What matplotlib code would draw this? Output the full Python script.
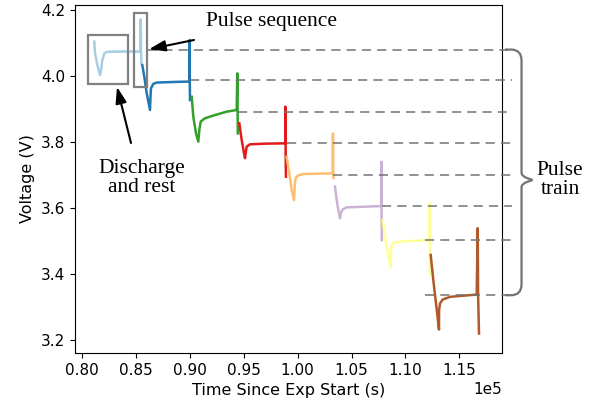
import matplotlib
matplotlib.use("Agg")
import matplotlib.pyplot as plt
import matplotlib.patches as mpatches
from matplotlib.path import Path
import matplotlib.transforms as mtransforms
import numpy as np

# voltage traces, one per discharge/rest/pulse cycle (time in s, voltage in V)
t_c0 = [81141, 81206, 81453, 81670, 81763, 81886, 82072, 82295, 83525, 85426, 85450, 85473, 85519]
v_c0 = [4.104, 4.069, 4.029, 4.003, 4.015, 4.048, 4.068, 4.073, 4.074, 4.074, 4.172, 4.074, 4.039]

t_c1 = [85593, 85779, 86001, 86308, 86355, 86400, 86614, 86929, 88627, 89972, 89980, 89999, 90018]
v_c1 = [4.033, 3.998, 3.948, 3.897, 3.937, 3.963, 3.976, 3.980, 3.982, 3.983, 4.109, 3.983, 3.927]

t_c2 = [90176, 90325, 90575, 90788, 90881, 91011, 91410, 92180, 93423, 94350, 94406, 94434, 94452]
v_c2 = [3.937, 3.877, 3.826, 3.801, 3.836, 3.862, 3.872, 3.880, 3.892, 3.897, 4.008, 3.897, 3.826]

t_c3 = [94591, 94814, 95027, 95120, 95213, 95277, 95584, 96975, 98858, 98868, 98886, 98914]
v_c3 = [3.857, 3.806, 3.766, 3.751, 3.773, 3.786, 3.793, 3.795, 3.796, 3.907, 3.796, 3.695]

t_c4 = [98989, 99230, 99453, 99666, 99758, 99851, 100065, 100528, 103264, 103278, 103292, 103320]
v_c4 = [3.755, 3.705, 3.655, 3.624, 3.680, 3.693, 3.699, 3.703, 3.705, 3.826, 3.705, 3.691]

t_c5 = [103469, 103627, 103775, 103932, 103997, 104183, 104554, 107754, 107768, 107782, 107810]
v_c5 = [3.665, 3.624, 3.594, 3.569, 3.584, 3.596, 3.602, 3.606, 3.740, 3.606, 3.503]

t_c6 = [107893, 108106, 108413, 108635, 108663, 108728, 109034, 109804, 112234, 112248, 112262, 112290]
v_c6 = [3.564, 3.513, 3.452, 3.420, 3.473, 3.488, 3.496, 3.499, 3.503, 3.614, 3.503, 3.397]

t_c7 = [112345, 112586, 112836, 113115, 113120, 113208, 113458, 114136, 116612, 116705, 116740, 116826]
v_c7 = [3.458, 3.382, 3.311, 3.232, 3.291, 3.311, 3.323, 3.331, 3.338, 3.539, 3.338, 3.220]

times = [t_c0, t_c1, t_c2, t_c3, t_c4, t_c5, t_c6, t_c7]
volts = [v_c0, v_c1, v_c2, v_c3, v_c4, v_c5, v_c6, v_c7]
colors = ['#a6cee3', '#1f78b4', '#33a02c', '#e31a1c',
          '#fdbf6f', '#cab2d6', '#ffff99', '#b15928']

# rest voltage levels (dashed guides) and where each guide starts
rest_v = [4.080, 3.988, 3.892, 3.798, 3.700, 3.606, 3.503, 3.336]
rest_t = [86122, 90018, 94471, 99017, 103283, 107829, 111817, 111817]

xticks = [80000, 85000, 90000, 95000, 100000, 105000, 110000, 115000]
yticks = [3.2, 3.4, 3.6, 3.8, 4.0, 4.2]

fig, ax = plt.subplots(figsize=(5.97, 4.05), dpi=100)
plt.subplots_adjust(left=0.1256, right=0.8409, top=0.9877, bottom=0.1284)

for t, v, c in zip(times, volts, colors):
    ax.plot(t, v, color=c, linewidth=1.8, zorder=2)

# dashed guides run past the right spine
blend = mtransforms.blended_transform_factory(ax.transAxes, ax.transData)
for t0, v in zip(rest_t, rest_v):
    ax.plot([t0, 119900], [v, v], color='0.45', linewidth=1.1,
            dashes=(6, 4), zorder=3, clip_on=False)

# boxes around discharge/rest and pulse sequence
ax.add_patch(mpatches.Rectangle((80529, 3.976), 3710, 0.148, fill=False,
                                edgecolor='0.5', linewidth=1.6, zorder=4))
ax.add_patch(mpatches.Rectangle((84851, 3.968), 1206, 0.222, fill=False,
                                edgecolor='0.5', linewidth=1.6, zorder=4))

serif = 'Liberation Serif'
ax.text(91502, 4.164, 'Pulse sequence', fontsize=15.5, family=serif,
        ha='left', va='center')
ax.annotate('', xy=(86215, 4.081), xytext=(90389, 4.109),
            arrowprops=dict(arrowstyle='-|>,head_length=0.65,head_width=0.22',
                            color='black', lw=1.5, mutation_scale=15,
                            shrinkA=0, shrinkB=0))
ax.text(85519, 3.691, 'Discharge\nand rest', fontsize=15.5, family=serif,
        ha='center', va='center', linespacing=1.05)
ax.annotate('', xy=(83247, 3.967), xytext=(84545, 3.797),
            arrowprops=dict(arrowstyle='-|>,head_length=0.65,head_width=0.22',
                            color='black', lw=1.5, mutation_scale=15,
                            shrinkA=0, shrinkB=0))

# curly brace for the pulse train
top, bot, tip = rest_v[0], rest_v[-1], 3.685
verts = [(1.007, top), (1.021, top), (1.0457, top), (1.0457, top - 0.033),
         (1.0457, tip + 0.022), (1.0457, tip + 0.012), (1.0585, tip + 0.006),
         (1.0714, tip), (1.0585, tip - 0.006), (1.0457, tip - 0.012),
         (1.0457, tip - 0.022), (1.0457, bot + 0.033), (1.0457, bot),
         (1.021, bot), (1.007, bot)]
codes = [Path.MOVETO, Path.LINETO, Path.CURVE3, Path.CURVE3,
         Path.LINETO, Path.CURVE3, Path.CURVE3,
         Path.LINETO, Path.LINETO, Path.CURVE3, Path.CURVE3,
         Path.LINETO, Path.CURVE3, Path.CURVE3, Path.LINETO]
ax.add_patch(mpatches.PathPatch(Path(verts, codes), fill=False, edgecolor='0.45',
                                linewidth=1.6, transform=blend, clip_on=False))
ax.text(1.136, tip, 'Pulse\ntrain', fontsize=15.5, family=serif,
        ha='center', va='center', linespacing=1.05, transform=blend)

ax.set_xlim(79350, 118960)
ax.set_ylim(3.161, 4.215)
ax.set_xticks(xticks)
ax.set_yticks(yticks)
ax.ticklabel_format(axis='x', style='sci', scilimits=(0, 0))
ax.tick_params(labelsize=11)
ax.xaxis.get_offset_text().set_fontsize(11)
ax.set_xlabel('Time Since Exp Start (s)', fontsize=11.5)
ax.set_ylabel('Voltage (V)', fontsize=11.5)

plt.savefig('out.png', dpi=100)
